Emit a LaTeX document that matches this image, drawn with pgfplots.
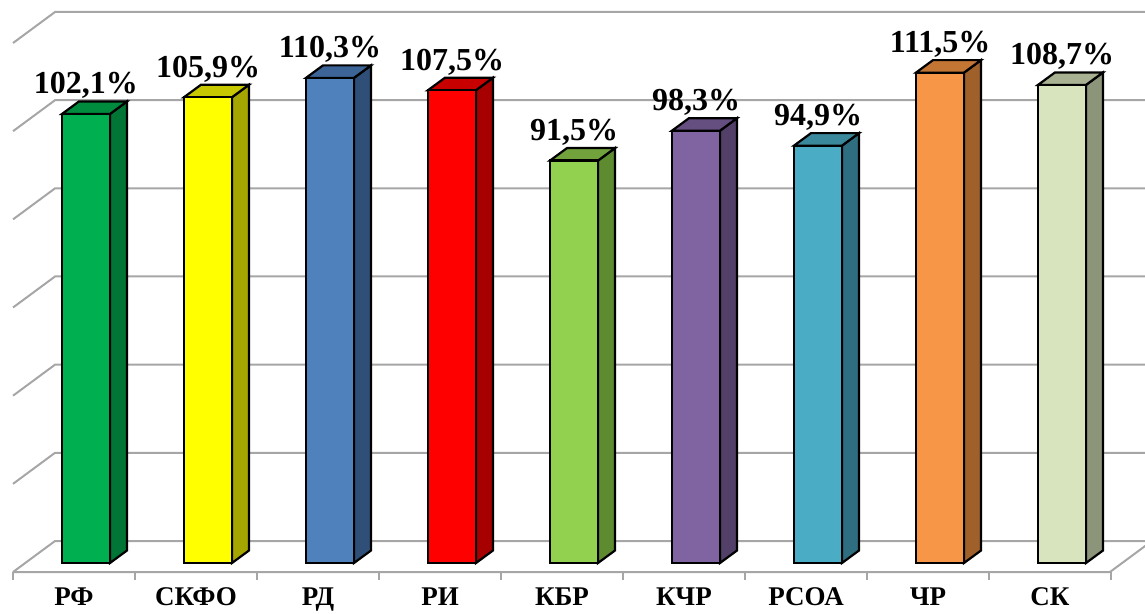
\documentclass[border=0pt]{standalone}
\usepackage{pgfplots}
\pgfplotsset{compat=1.18}
\usepackage{fontspec}
\setmainfont{Liberation Serif}
\definecolor{rfF}{HTML}{00B050}\definecolor{rfS}{HTML}{007535}\definecolor{rfT}{HTML}{008C3F}
\definecolor{skF}{HTML}{FFFF00}\definecolor{skS}{HTML}{A6A600}\definecolor{skT}{HTML}{C8C800}
\definecolor{rdF}{HTML}{4F81BD}\definecolor{rdS}{HTML}{2F4F78}\definecolor{rdT}{HTML}{3D6496}
\definecolor{riF}{HTML}{FF0000}\definecolor{riS}{HTML}{A60000}\definecolor{riT}{HTML}{C80000}
\definecolor{kbF}{HTML}{92D050}\definecolor{kbS}{HTML}{5E8A30}\definecolor{kbT}{HTML}{71A23C}
\definecolor{kcF}{HTML}{8064A2}\definecolor{kcS}{HTML}{524068}\definecolor{kcT}{HTML}{654E80}
\definecolor{roF}{HTML}{4BACC6}\definecolor{roS}{HTML}{2F6E80}\definecolor{roT}{HTML}{3A889C}
\definecolor{crF}{HTML}{F79646}\definecolor{crS}{HTML}{A0602A}\definecolor{crT}{HTML}{C37533}
\definecolor{ckF}{HTML}{D7E4BD}\definecolor{ckS}{HTML}{8C947A}\definecolor{ckT}{HTML}{A8B191}
\definecolor{gridc}{HTML}{A6A6A6}
\begin{document}
\begin{tikzpicture}
\begin{axis}[
  scale only axis, width=572.5pt, height=307pt,
  xmin=-0.7049, xmax=8.6803, ymin=-11.596, ymax=128.01,
  clip=false,
  axis line style={draw=none},
  major tick length=0pt,
  ymajorticks=false,
  xtick={0,1,2,3,4,5,6,7,8},
  xticklabels={РФ,СКФО,РД,РИ,КБР,КЧР,РСОА,ЧР,СК},
  xticklabel style={font=\fontsize{13.5pt}{15pt}\selectfont\bfseries, anchor=base, xshift=-6pt, yshift=4pt},
  bar width=0.3934, bar shift=0pt,
  nodes near coords style={font=\fontsize{16pt}{18pt}\selectfont\bfseries, anchor=base, yshift=10pt, inner sep=0pt},
]
% back wall gridlines and left wall diagonals
\draw[gridc, line width=1pt] (axis cs:-0.598,-2.05) -- (axis cs:-0.254,5.0) -- (axis cs:8.72,5.0);
\draw[gridc, line width=1pt] (axis cs:-0.598,18.0) -- (axis cs:-0.254,25.05) -- (axis cs:8.72,25.05);
\draw[gridc, line width=1pt] (axis cs:-0.598,38.04) -- (axis cs:-0.254,45.09) -- (axis cs:8.72,45.09);
\draw[gridc, line width=1pt] (axis cs:-0.598,58.09) -- (axis cs:-0.254,65.14) -- (axis cs:8.72,65.14);
\draw[gridc, line width=1pt] (axis cs:-0.598,78.13) -- (axis cs:-0.254,85.18) -- (axis cs:8.72,85.18);
\draw[gridc, line width=1pt] (axis cs:-0.598,98.18) -- (axis cs:-0.254,105.23) -- (axis cs:8.72,105.23);
\draw[gridc, line width=1pt] (axis cs:-0.598,118.23) -- (axis cs:-0.254,125.28) -- (axis cs:8.72,125.28);
% floor front line, right edge, ticks
\draw[gridc, line width=1pt] (axis cs:-0.598,-2.05) -- (axis cs:8.393,-2.05) -- (axis cs:8.737,5.0);
\draw[gridc, line width=1pt] (axis cs:-0.598,-2.05) -- (axis cs:-0.598,-3.9);
\draw[gridc, line width=1pt] (axis cs:0.402,-2.05) -- (axis cs:0.402,-3.9);
\draw[gridc, line width=1pt] (axis cs:1.402,-2.05) -- (axis cs:1.402,-3.9);
\draw[gridc, line width=1pt] (axis cs:2.402,-2.05) -- (axis cs:2.402,-3.9);
\draw[gridc, line width=1pt] (axis cs:3.402,-2.05) -- (axis cs:3.402,-3.9);
\draw[gridc, line width=1pt] (axis cs:4.402,-2.05) -- (axis cs:4.402,-3.9);
\draw[gridc, line width=1pt] (axis cs:5.402,-2.05) -- (axis cs:5.402,-3.9);
\draw[gridc, line width=1pt] (axis cs:6.402,-2.05) -- (axis cs:6.402,-3.9);
\draw[gridc, line width=1pt] (axis cs:7.402,-2.05) -- (axis cs:7.402,-3.9);
\draw[gridc, line width=1pt] (axis cs:8.402,-2.05) -- (axis cs:8.402,-3.9);
% ---- bars: side face, top face, front face ----
% RF 102.1
\addplot[sharp plot, draw=black, line width=1.1pt, fill=rfS] coordinates {(0.1967,0) (0.336,2.84) (0.336,104.94) (0.1967,102.1)} -- cycle;
\addplot[sharp plot, draw=black, line width=1.1pt, fill=rfT] coordinates {(-0.1967,102.1) (0.1967,102.1) (0.336,104.94) (-0.0574,104.94)} -- cycle;
\addplot[ybar, draw=black, line width=1.1pt, fill=rfF, nodes near coords={102,1\%}] coordinates {(0,102.1)};
% SKFO 105.9
\addplot[sharp plot, draw=black, line width=1.1pt, fill=skS] coordinates {(1.1967,0) (1.336,2.84) (1.336,108.74) (1.1967,105.9)} -- cycle;
\addplot[sharp plot, draw=black, line width=1.1pt, fill=skT] coordinates {(0.8033,105.9) (1.1967,105.9) (1.336,108.74) (0.9426,108.74)} -- cycle;
\addplot[ybar, draw=black, line width=1.1pt, fill=skF, nodes near coords={105,9\%}] coordinates {(1,105.9)};
% RD 110.3
\addplot[sharp plot, draw=black, line width=1.1pt, fill=rdS] coordinates {(2.1967,0) (2.336,2.84) (2.336,113.14) (2.1967,110.3)} -- cycle;
\addplot[sharp plot, draw=black, line width=1.1pt, fill=rdT] coordinates {(1.8033,110.3) (2.1967,110.3) (2.336,113.14) (1.9426,113.14)} -- cycle;
\addplot[ybar, draw=black, line width=1.1pt, fill=rdF, nodes near coords={110,3\%}] coordinates {(2,110.3)};
% RI 107.5
\addplot[sharp plot, draw=black, line width=1.1pt, fill=riS] coordinates {(3.1967,0) (3.336,2.84) (3.336,110.34) (3.1967,107.5)} -- cycle;
\addplot[sharp plot, draw=black, line width=1.1pt, fill=riT] coordinates {(2.8033,107.5) (3.1967,107.5) (3.336,110.34) (2.9426,110.34)} -- cycle;
\addplot[ybar, draw=black, line width=1.1pt, fill=riF, nodes near coords={107,5\%}] coordinates {(3,107.5)};
% KBR 91.5
\addplot[sharp plot, draw=black, line width=1.1pt, fill=kbS] coordinates {(4.1967,0) (4.336,2.84) (4.336,94.34) (4.1967,91.5)} -- cycle;
\addplot[sharp plot, draw=black, line width=1.1pt, fill=kbT] coordinates {(3.8033,91.5) (4.1967,91.5) (4.336,94.34) (3.9426,94.34)} -- cycle;
\addplot[ybar, draw=black, line width=1.1pt, fill=kbF, nodes near coords={91,5\%}] coordinates {(4,91.5)};
% KCR 98.3
\addplot[sharp plot, draw=black, line width=1.1pt, fill=kcS] coordinates {(5.1967,0) (5.336,2.84) (5.336,101.14) (5.1967,98.3)} -- cycle;
\addplot[sharp plot, draw=black, line width=1.1pt, fill=kcT] coordinates {(4.8033,98.3) (5.1967,98.3) (5.336,101.14) (4.9426,101.14)} -- cycle;
\addplot[ybar, draw=black, line width=1.1pt, fill=kcF, nodes near coords={98,3\%}] coordinates {(5,98.3)};
% RSOA 94.9
\addplot[sharp plot, draw=black, line width=1.1pt, fill=roS] coordinates {(6.1967,0) (6.336,2.84) (6.336,97.74) (6.1967,94.9)} -- cycle;
\addplot[sharp plot, draw=black, line width=1.1pt, fill=roT] coordinates {(5.8033,94.9) (6.1967,94.9) (6.336,97.74) (5.9426,97.74)} -- cycle;
\addplot[ybar, draw=black, line width=1.1pt, fill=roF, nodes near coords={94,9\%}] coordinates {(6,94.9)};
% CR 111.5
\addplot[sharp plot, draw=black, line width=1.1pt, fill=crS] coordinates {(7.1967,0) (7.336,2.84) (7.336,114.34) (7.1967,111.5)} -- cycle;
\addplot[sharp plot, draw=black, line width=1.1pt, fill=crT] coordinates {(6.8033,111.5) (7.1967,111.5) (7.336,114.34) (6.9426,114.34)} -- cycle;
\addplot[ybar, draw=black, line width=1.1pt, fill=crF, nodes near coords={111,5\%}] coordinates {(7,111.5)};
% SK 108.7
\addplot[sharp plot, draw=black, line width=1.1pt, fill=ckS] coordinates {(8.1967,0) (8.336,2.84) (8.336,111.54) (8.1967,108.7)} -- cycle;
\addplot[sharp plot, draw=black, line width=1.1pt, fill=ckT] coordinates {(7.8033,108.7) (8.1967,108.7) (8.336,111.54) (7.9426,111.54)} -- cycle;
\addplot[ybar, draw=black, line width=1.1pt, fill=ckF, nodes near coords={108,7\%}] coordinates {(8,108.7)};
\end{axis}
\pgfresetboundingbox
\path (current axis.south west) rectangle (current axis.north east);
\end{tikzpicture}
\end{document}
